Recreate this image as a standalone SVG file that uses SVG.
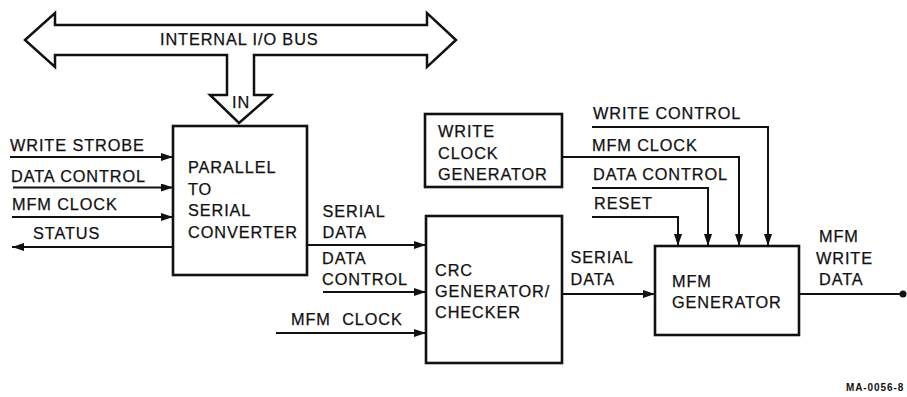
<svg xmlns="http://www.w3.org/2000/svg" width="907" height="397" viewBox="0 0 907 397">
<style>
text{font-family:"Liberation Sans",Arial,sans-serif;font-size:16.3px;letter-spacing:0.9px;fill:#111;stroke:#111;stroke-width:0.25}
.box{fill:#fff;stroke:#111;stroke-width:2.6}
.ln{fill:none;stroke:#111;stroke-width:2;marker-end:url(#ah)}
.pl{fill:none;stroke:#111;stroke-width:2}
.small{font-size:10px;font-weight:bold;letter-spacing:0.9px;stroke-width:0}
</style>
<defs>
<marker id="ah" viewBox="0 0 12 8" refX="12" refY="4" markerWidth="12" markerHeight="8" markerUnits="userSpaceOnUse" orient="auto">
<path d="M0,0 L12,4 L0,8 z" fill="#111"/>
</marker>
</defs>
<rect width="907" height="397" fill="#fff"/>

<g id="bus">
<polygon points="25,40 55,13 55,25 427,25 427,13 456,40 427,67 427,55 254,55 254,95 271,95 239,123 210,95 227,95 227,55 55,55 55,67" fill="#fff" stroke="#111" stroke-width="2.5" stroke-linejoin="miter"/>
<text x="160" y="45">INTERNAL I/O BUS</text>
<text x="232" y="108">IN</text>
</g>

<g id="p2s">
<rect class="box" x="173" y="126" width="134" height="149"/>
<text x="188" y="173">PARALLEL</text>
<text x="188" y="195">TO</text>
<text x="188" y="216">SERIAL</text>
<text x="188" y="238">CONVERTER</text>
</g>

<g id="wcg">
<rect class="box" x="425" y="114" width="137" height="73"/>
<text x="438" y="137">WRITE</text>
<text x="438" y="158.5">CLOCK</text>
<text x="438" y="180">GENERATOR</text>
</g>

<g id="crc">
<rect class="box" x="426" y="216" width="136" height="147"/>
<text x="435" y="276">CRC</text>
<text x="435" y="297">GENERATOR/</text>
<text x="435" y="318">CHECKER</text>
</g>

<g id="mfm">
<rect class="box" x="655" y="246" width="144" height="89"/>
<text x="672" y="287">MFM</text>
<text x="672" y="308">GENERATOR</text>
</g>

<g id="connectors">
<line class="ln" x1="10" y1="157" x2="173" y2="157"/>
<line class="ln" x1="13" y1="187.5" x2="173" y2="187.5"/>
<line class="ln" x1="12" y1="217" x2="173" y2="217"/>
<line class="ln" x1="173" y1="247" x2="12" y2="247"/>
<line class="ln" x1="307" y1="245" x2="426" y2="245"/>
<line class="ln" x1="323" y1="292" x2="426" y2="292"/>
<line class="ln" x1="276" y1="333" x2="426" y2="333"/>
<line class="ln" x1="562" y1="294" x2="655" y2="294"/>
<line class="pl" x1="799" y1="294" x2="903" y2="294"/>
<circle cx="903" cy="294" r="3.5" fill="#111"/>
<polyline class="ln" points="592,127 768,127 768,246"/>
<polyline class="ln" points="562,157 739,157 739,246"/>
<polyline class="ln" points="592,188 708,188 708,246"/>
<polyline class="ln" points="592,217 678,217 678,246"/>
</g>

<g id="labels">
<text x="10" y="151">WRITE STROBE</text>
<text x="11" y="181.5">DATA CONTROL</text>
<text x="12" y="209.5">MFM CLOCK</text>
<text x="33" y="239">STATUS</text>
<text x="322.5" y="217">SERIAL</text>
<text x="322.5" y="237.5">DATA</text>
<text x="322" y="264">DATA</text>
<text x="322" y="285">CONTROL</text>
<text x="291" y="325" word-spacing="6">MFM CLOCK</text>
<text x="570.5" y="263">SERIAL</text>
<text x="570.5" y="284.5">DATA</text>
<text x="819" y="242">MFM</text>
<text x="816" y="264">WRITE</text>
<text x="819" y="285">DATA</text>
<text x="593" y="119">WRITE CONTROL</text>
<text x="592" y="150.5">MFM CLOCK</text>
<text x="593" y="180">DATA CONTROL</text>
<text x="594" y="209">RESET</text>
<text class="small" x="846" y="391">MA-0056-8</text>
</g>
</svg>
